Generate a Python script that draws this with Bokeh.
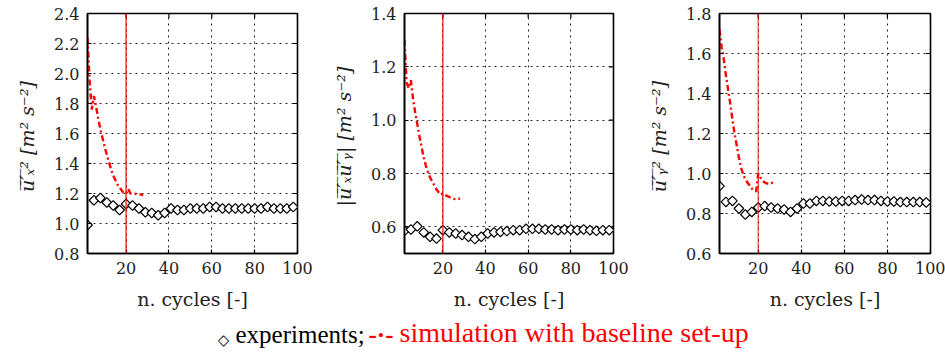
from bokeh.plotting import figure
from bokeh.layouts import column, row
from bokeh.models import (FixedTicker, Label, Range1d, NumeralTickFormatter,
                          Span)
from bokeh.embed import file_html
from bokeh.resources import INLINE

# ---------------- data ----------------
exp_cycles = [2, 5, 8, 11, 14, 17, 20, 23, 26, 29, 32, 35, 38, 41, 44, 47, 50,
              53, 56, 59, 62, 65, 68, 71, 74, 77, 80, 83, 86, 89, 92, 95, 98]
sim_cycles = [2, 3, 4, 5, 6, 7, 8, 9, 10, 11, 12, 13, 14, 15, 16, 17, 18, 19,
              20, 21, 22, 23, 24, 25, 26, 27, 28]

uxx_exp = [0.99, 1.155, 1.17, 1.14, 1.12, 1.09, 1.13, 1.12, 1.10, 1.075, 1.07,
           1.055, 1.07, 1.10, 1.09, 1.09, 1.10, 1.10, 1.10, 1.11, 1.11, 1.10,
           1.10, 1.10, 1.10, 1.10, 1.10, 1.10, 1.11, 1.10, 1.10, 1.10, 1.11]
uxx_sim = [2.24, 1.95, 1.76, 1.85, 1.78, 1.70, 1.63, 1.57, 1.51, 1.46, 1.41,
           1.36, 1.32, 1.29, 1.26, 1.24, 1.22, 1.20, 1.20, 1.23, 1.20, 1.20,
           1.198, 1.196, 1.195, 1.193, 1.19]

uxy_exp = [0.585, 0.59, 0.602, 0.579, 0.5625, 0.556, 0.5875, 0.579, 0.575,
           0.569, 0.5625, 0.554, 0.5625, 0.575, 0.579, 0.581, 0.584, 0.5875,
           0.5875, 0.5925, 0.5925, 0.5925, 0.59, 0.59, 0.5875, 0.59, 0.59,
           0.5875, 0.59, 0.5875, 0.585, 0.5875, 0.5875]
uxy_sim = [1.30, 1.14, 1.12, 1.15, 1.08, 1.03, 0.985, 0.94, 0.90, 0.86, 0.83,
           0.805, 0.785, 0.77, 0.755, 0.74, 0.73, 0.72, 0.725, 0.72, 0.715,
           0.712, 0.708, 0.705, 0.704, 0.703, 0.707]

uyy_exp = [0.937, 0.858, 0.863, 0.825, 0.795, 0.808, 0.83, 0.837, 0.83, 0.825,
           0.82, 0.808, 0.825, 0.85, 0.85, 0.863, 0.863, 0.86, 0.86, 0.863,
           0.863, 0.867, 0.87, 0.867, 0.867, 0.863, 0.86, 0.86, 0.857, 0.857,
           0.857, 0.857, 0.855]
uyy_sim = [1.72, 1.63, 1.57, 1.49, 1.42, 1.35, 1.27, 1.20, 1.14, 1.08, 1.03,
           0.995, 0.97, 0.955, 0.94, 0.925, 0.915, 0.91, 1.0, 0.98, 0.965,
           0.955, 0.95, 0.95, 0.955, 0.95, 0.95]

x_ticks = [20, 40, 60, 80, 100]
uxx_ticks = [0.8, 1.0, 1.2, 1.4, 1.6, 1.8, 2.0, 2.2, 2.4]
uxy_ticks = [0.6, 0.8, 1.0, 1.2, 1.4]
uyy_ticks = [0.6, 0.8, 1.0, 1.2, 1.4, 1.6, 1.8]

transient_end = 20
x_start, x_end = 2, 100

uxx_label = "u\u0305\u2032\u0305\u2093\u0305\u00b2  [m\u00b2 s\u207b\u00b2]"
uxy_label = "|u\u0305\u2032\u0305\u2093\u0305u\u0305\u2032\u0305\u1d67\u0305|  [m\u00b2 s\u207b\u00b2]"
uyy_label = "u\u0305\u2032\u0305\u1d67\u0305\u00b2  [m\u00b2 s\u207b\u00b2]"
x_label = "n. cycles [-]"

TICK_FONT = "DejaVu Serif"
RED = "#ff0000"
TXT = "#222222"


def style_axis(ax):
    ax.axis_line_color = "black"
    ax.axis_line_width = 1.6
    ax.major_tick_in = 4
    ax.major_tick_out = 0
    ax.major_tick_line_color = "black"
    ax.major_tick_line_width = 1.2
    ax.minor_tick_line_color = None
    ax.major_label_text_font = TICK_FONT
    ax.major_label_text_color = TXT
    ax.major_label_text_font_size = "16px"
    ax.major_label_standoff = 8


def panel(exp_y, sim_y, ymin, ymax, yticks, ylabel, bl, br, span_alpha, span_w):
    p = figure(width=315, height=315, x_range=Range1d(x_start, x_end),
               y_range=Range1d(ymin, ymax), output_backend="svg",
               toolbar_location=None, min_border_left=bl, min_border_right=br,
               min_border_top=13, min_border_bottom=62,
               background_fill_color="white", border_fill_color="white")
    p.outline_line_color = "black"
    p.outline_line_width = 1.6

    xt = FixedTicker(ticks=x_ticks)
    yt = FixedTicker(ticks=yticks)
    p.xaxis.ticker = xt
    p.yaxis.ticker = yt
    p.xaxis.formatter = NumeralTickFormatter(format="0")
    p.yaxis.formatter = NumeralTickFormatter(format="0.0")
    for ax in p.xaxis + p.yaxis:
        style_axis(ax)
    p.yaxis.axis_label = ylabel
    p.yaxis.axis_label_text_font = TICK_FONT
    p.yaxis.axis_label_text_font_size = "19px"
    p.yaxis.axis_label_text_font_style = "italic"
    p.yaxis.axis_label_standoff = 13
    p.yaxis.axis_label_text_color = TXT

    p.xaxis.axis_label = x_label
    p.xaxis.axis_label_text_font = TICK_FONT
    p.xaxis.axis_label_text_font_size = "19px"
    p.xaxis.axis_label_text_font_style = "normal"
    p.xaxis.axis_label_text_color = TXT
    p.xaxis.axis_label_standoff = 11

    for g in (p.xgrid, p.ygrid):
        g.grid_line_color = "black"
        g.grid_line_dash = "2 4"
        g.grid_line_width = 1
        g.grid_line_alpha = 0.85
    p.xgrid.ticker = xt
    p.ygrid.ticker = yt

    # mirrored inner ticks on the right and top frame edges
    p.scatter([x_end] * len(yticks), yticks, marker="dash", size=9,
              line_color="black", line_width=1.2)
    p.scatter(x_ticks, [ymax] * len(x_ticks), marker="dash", angle=1.5708,
              size=9, line_color="black", line_width=1.2)

    p.add_layout(Span(location=transient_end, dimension="height",
                      line_color=RED, line_width=span_w, line_alpha=span_alpha))

    p.line(sim_cycles, sim_y, line_color=RED, line_width=2.4,
           line_dash="6 3 2 3")
    p.scatter(exp_cycles, exp_y, marker="square", angle=0.785398,
              size=6.8, fill_color="white", line_color="black",
              line_width=1.2)
    return p


p1 = panel(uxx_exp, uxx_sim, 0.8, 2.4, uxx_ticks, uxx_label, 87, 18, 1.0, 1.2)
p2 = panel(uxy_exp, uxy_sim, 0.5, 1.4, uxy_ticks, uxy_label, 89, 17, 1.0, 1.2)
p3 = panel(uyy_exp, uyy_sim, 0.6, 1.8, uyy_ticks, uyy_label, 89, 15, 0.6, 1.6)

leg = figure(width=945, height=48, x_range=Range1d(0, 945),
             y_range=Range1d(0, 48), output_backend="svg",
             toolbar_location=None, x_axis_type=None, y_axis_type=None,
             min_border_left=0, min_border_right=0, min_border_top=0,
             min_border_bottom=0)
leg.outline_line_color = None
leg.grid.visible = False
LEG_FONT = "Liberation Serif"
leg.add_layout(Label(x=223, y=24, text="\u25c7", text_align="center",
                     text_baseline="middle", text_font="DejaVu Sans",
                     text_font_size="15px", text_color="black"))
leg.add_layout(Label(x=235, y=16, text="experiments;", text_align="left",
                     text_font=LEG_FONT, text_font_size="25px",
                     text_color="black"))
leg.add_layout(Label(x=368, y=16, text="-\u00b7-", text_align="left",
                     text_font=LEG_FONT, text_font_size="25px",
                     text_font_style="bold", text_color=RED))
leg.add_layout(Label(x=399, y=16, text="simulation with baseline set-up",
                     text_align="left", text_font=LEG_FONT,
                     text_font_size="28px", text_color=RED))

layout = column(row(p1, p2, p3, spacing=0), leg, spacing=0)
open("out.html", "w").write(file_html(layout, INLINE))
